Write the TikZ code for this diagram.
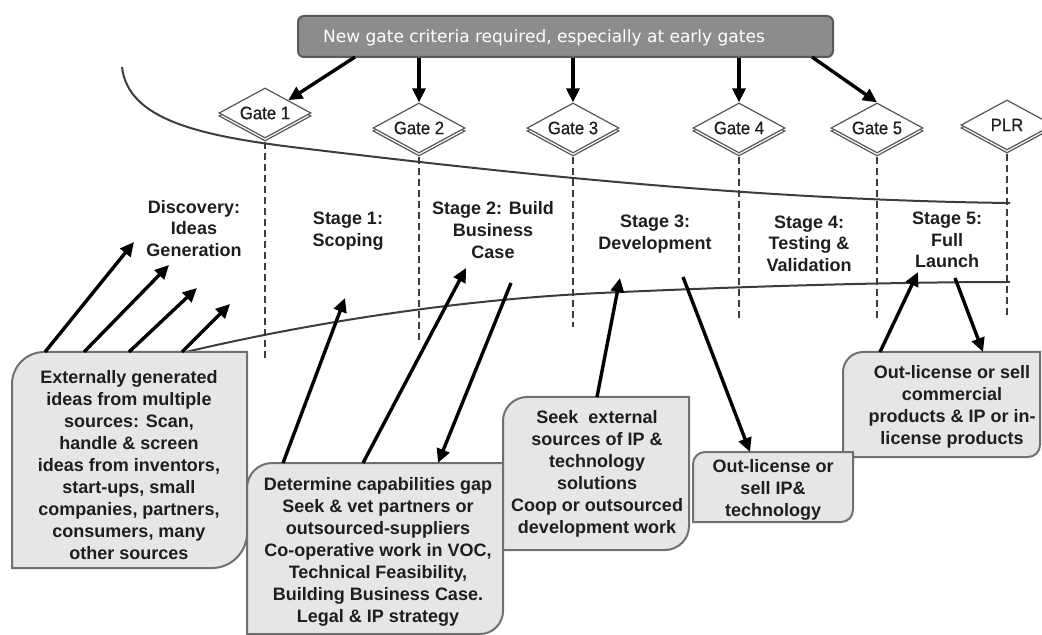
\documentclass[tikz,border=0pt]{standalone}
\usepackage{fontspec}
\setmainfont{Liberation Sans}
\newfontfamily\gatefont[FakeStretch=0.93,FakeBold=0.6]{Liberation Sans}
\newfontfamily\bannerfont{DejaVu Sans}
\usetikzlibrary{shapes.geometric,arrows.meta}

\definecolor{bannerfill}{HTML}{8C8C8C}
\definecolor{bannerline}{HTML}{5A5A5A}
\definecolor{panelfill}{HTML}{E6E6E6}
\definecolor{panelline}{HTML}{707070}
\definecolor{gateline}{HTML}{555555}
\definecolor{inkdark}{HTML}{1E1E1E}
\definecolor{curvecol}{HTML}{3C3C3C}

\tikzset{
  banner/.style={draw=bannerline, line width=1pt, fill=bannerfill, rounded corners=3pt,
    minimum width=267.5pt, minimum height=20.5pt, inner sep=0pt},
  bannertext/.style={inner sep=0pt, text=white,
    font=\bannerfont\fontsize{8.5}{10}\selectfont},
  gate/.style={diamond, aspect=2, draw=gateline, line width=0.6pt, fill=white,
    minimum width=46pt, minimum height=25pt, inner sep=0pt, text=inkdark,
    font=\gatefont\fontsize{9}{10}\selectfont},
  panel/.style={draw=panelline, line width=1pt, fill=panelfill},
  paneltext/.style={align=center, inner sep=0pt, text=inkdark,
    font=\bfseries\fontsize{9}{11}\selectfont},
  stagelabel/.style={align=center, inner sep=0pt, text=inkdark,
    font=\bfseries\fontsize{9}{10.8}\selectfont},
  flow/.style={line width=1.7pt, black, -{Triangle[length=7pt,width=6.5pt]}},
  gatedash/.style={dash pattern=on 3.5pt off 2pt, line width=0.55pt, draw=curvecol},
  trend/.style={line width=1pt, draw=curvecol},
}

% gate diamond with a copy offset below it: name, x, y, label
\newcommand\gatemark[4]{%
  \node[gate] (#1sh) at (#2,{#3+3}) {};
  \node[gate] (#1) at (#2,#3) {#4};
}

% box with rounded top-left and bottom-right corners: x1, y1, x2, y2, r top-left, r bottom-right
\newcommand\infopanel[6]{%
  \draw[panel] (#1,{#2+#5}) .. controls (#1,{#2+0.45*#5}) and ({#1+0.45*#5},#2) .. ({#1+#5},#2)
    -- (#3,#2) -- (#3,{#4-#6})
    .. controls (#3,{#4-0.45*#6}) and ({#3-0.45*#6},#4) .. ({#3-#6},#4)
    -- (#1,#4) -- cycle;
}

\begin{document}
\begin{tikzpicture}[x=0.5pt,y=-0.5pt]
\useasboundingbox (0,0) rectangle (1042,635);

% funnel curves
\draw[trend] (122,67) .. controls (128,120) and (200,136) .. (300,148)
  .. controls (500,172) and (750,200) .. (1010,203);
\draw[trend] (186,352) .. controls (300,325) and (450,300) .. (600,293)
  .. controls (750,286) and (900,282) .. (1010,282);

% gates
\gatemark{g1}{265}{113}{Gate 1}
\gatemark{g2}{419}{128}{Gate 2}
\gatemark{g3}{573}{128}{Gate 3}
\gatemark{g4}{739}{128}{Gate 4}
\gatemark{g5}{877}{128}{Gate 5}
\gatemark{plr}{1007}{125}{PLR}

% dashed stage boundaries
\coordinate (d1) at (265,358);
\coordinate (d2) at (419,343);
\coordinate (d3) at (573,327);
\coordinate (d4) at (739,320);
\coordinate (d5) at (877,320);
\coordinate (d6) at (1007,318);
\draw[gatedash] (g1sh.south) -- (d1);
\draw[gatedash] (g2sh.south) -- (d2);
\draw[gatedash] (g3sh.south) -- (d3);
\draw[gatedash] (g4sh.south) -- (d4);
\draw[gatedash] (g5sh.south) -- (d5);
\draw[gatedash] (plrsh.south) -- (d6);

% banner and its arrows to the gates
\node[banner] (banner) at (565.5,36.5) {};
\node[bannertext] (bannercaption) at (544,37.5) {New gate criteria required, especially at early gates};
\coordinate (bs1) at (355,57);
\coordinate (bs5) at (812,57);
\draw[flow] (bs1) -- (g1.north east);
\draw[flow] (banner.south -| g2) -- (g2.north);
\draw[flow] (banner.south -| g3) -- (g3.north);
\draw[flow] (banner.south -| g4) -- (g4.north);
\draw[flow] (bs5) -- (g5.north);

% stage labels
\node[stagelabel] (discovery) at (194,228.5) {Discovery:\\Ideas\\Generation};
\node[stagelabel] (stage1) at (348,231) {Stage 1:\\Scoping};
\node[stagelabel] (stage2) at (493,230) {Stage 2: Build\\Business\\Case};
\node[stagelabel] (stage3) at (655,234) {Stage 3:\\Development};
\node[stagelabel] (stage4) at (809,243.5) {Stage 4:\\Testing \&\\Validation};
\node[stagelabel] (stage5) at (947,240) {Stage 5:\\Full\\Launch};

% panels
\infopanel{12}{352}{247}{568}{32}{35}
\infopanel{247}{463}{503}{634}{25}{23}
\infopanel{503}{397}{689}{550}{24}{24}
\infopanel{843}{352}{1040}{457}{20}{12}
\infopanel{693}{452}{853}{522}{12}{12}

\node[paneltext] (ideas) at (129,465.5) {Externally generated\\ideas from multiple\\sources: Scan,\\handle \& screen\\ideas from inventors,\\start-ups, small\\companies, partners,\\consumers, many\\other sources};
\node[paneltext] (scoping) at (378,551.5) {Determine capabilities gap\\Seek \& vet partners or\\outsourced-suppliers\\Co-operative work in VOC,\\Technical Feasibility,\\Building Business Case.\\Legal \& IP strategy};
\node[paneltext] (sourcing) at (597,474) {Seek\ \ external\\sources of IP \&\\technology\\solutions\\Coop or outsourced\\development work};
\node[paneltext] (outlic) at (773,490) {Out-license or\\sell IP\&\\technology};
\node[paneltext] (launchbox) at (952,406.5) {Out-license or sell\\commercial\\products \& IP or in-\\license products};

% idea arrows
\coordinate (a1s) at (45,352);  \coordinate (a1e) at (134,242);
\coordinate (a2s) at (84,352);  \coordinate (a2e) at (169,265);
\coordinate (a3s) at (129,352); \coordinate (a3e) at (197,288);
\coordinate (a4s) at (182,352); \coordinate (a4e) at (230,304);
\draw[flow] (a1s) -- (a1e);
\draw[flow] (a2s) -- (a2e);
\draw[flow] (a3s) -- (a3e);
\draw[flow] (a4s) -- (a4e);

% scoping / business case arrows
\coordinate (b1s) at (283,463); \coordinate (b1e) at (345,298);
\coordinate (b2s) at (363,463); \coordinate (b2e) at (466,268);
\coordinate (b3s) at (511,283); \coordinate (b3e) at (438,463);
\draw[flow] (b1s) -- (b1e);
\draw[flow] (b2s) -- (b2e);
\draw[flow] (b3s) -- (b3e);

% development arrows
\coordinate (c1s) at (597,397); \coordinate (c1e) at (620,278);
\coordinate (c2s) at (683,277); \coordinate (c2e) at (750,452);
\draw[flow] (c1s) -- (c1e);
\draw[flow] (c2s) -- (c2e);

% launch arrows
\coordinate (e1s) at (880,352); \coordinate (e1e) at (918,272);
\coordinate (e2s) at (955,278); \coordinate (e2e) at (983,352);
\draw[flow] (e1s) -- (e1e);
\draw[flow] (e2s) -- (e2e);

\end{tikzpicture}
\end{document}
